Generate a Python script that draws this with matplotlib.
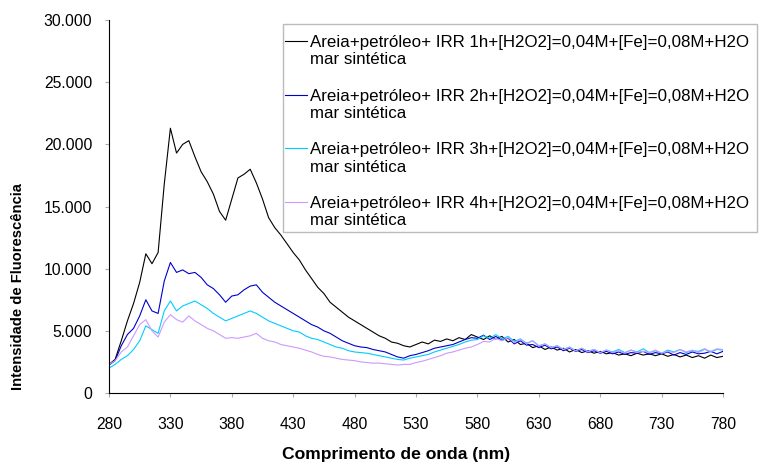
import numpy as np
import matplotlib
matplotlib.use('Agg')
from matplotlib import pyplot as plt
from matplotlib.ticker import FuncFormatter
from matplotlib.patches import Rectangle
from matplotlib.legend_handler import HandlerLine2D

plt.rcParams['font.family'] = ['Liberation Sans', 'DejaVu Sans']

wavelength = np.arange(280, 781, 5)

irr_1h = [2300, 2700, 4200, 5800, 7200, 8900, 11200, 10400, 11300, 16800,
          21300, 19300, 20000, 20300, 19000, 17800, 17000, 16000, 14600, 13900,
          15600, 17300, 17600, 18000, 16900, 15600, 14100, 13300, 12700, 12000,
          11300, 10700, 9900, 9200, 8500, 8000, 7300, 6900, 6500, 6100,
          5800, 5500, 5200, 4900, 4600, 4400, 4100, 4000, 3800, 3700,
          3900, 4100, 3950, 4250, 4150, 4350, 4200, 4450, 4300, 4700,
          4500, 4300, 4600, 4350, 4550, 4100, 4300, 3900, 4000, 3650,
          3800, 3500, 3700, 3450, 3600, 3300, 3500, 3250, 3400, 3200,
          3350, 3150, 3250, 3050, 3150, 3000, 3200, 3050, 3150, 3000,
          3150, 2950, 3100, 2900, 3050, 2850, 3000, 2800, 3050, 2850,
          2950]

irr_2h = [2250, 2600, 3800, 4700, 5200, 6200, 7500, 6600, 6400, 9000,
          10500, 9700, 9900, 9600, 9700, 9300, 8700, 8400, 7900, 7300,
          7800, 7900, 8300, 8600, 8700, 8100, 7700, 7300, 7000, 6700,
          6400, 6100, 5800, 5500, 5300, 5000, 4800, 4500, 4200, 4000,
          3800, 3700, 3650, 3500, 3400, 3300, 3100, 2900, 2800, 3000,
          3100, 3250, 3400, 3600, 3700, 3800, 3900, 4100, 4300, 4450,
          4400, 4650, 4300, 4550, 4250, 4400, 3950, 4200, 3850, 3900,
          3650, 3850, 3550, 3700, 3400, 3600, 3350, 3500, 3250, 3400,
          3200, 3350, 3150, 3300, 3100, 3250, 3200, 3350, 3100, 3250,
          3150, 3300, 3050, 3250, 3100, 3300, 3150, 3200, 3350, 3150,
          3350]

irr_3h = [2000, 2300, 2700, 3000, 3500, 4200, 5400, 5100, 4800, 6600,
          7400, 6600, 7000, 7200, 7400, 7100, 6800, 6400, 6100, 5800,
          6000, 6200, 6400, 6600, 6400, 6100, 5800, 5600, 5400, 5200,
          5000, 4900, 4600, 4400, 4300, 4100, 3900, 3700, 3600, 3400,
          3300, 3250, 3200, 3100, 3000, 2900, 2800, 2700, 2650, 2800,
          2900, 3000, 3100, 3300, 3450, 3600, 3750, 3900, 4100, 4250,
          4300, 4600, 4400, 4700, 4350, 4550, 4150, 4350, 4000, 4200,
          3800, 3950, 3650, 3800, 3500, 3700, 3400, 3600, 3350, 3500,
          3250, 3450, 3300, 3500, 3250, 3450, 3300, 3550, 3250, 3400,
          3200, 3450, 3300, 3500, 3250, 3400, 3350, 3550, 3300, 3500,
          3450]

irr_4h = [2300, 2600, 3300, 3700, 4600, 5500, 5900, 5000, 4500, 5700,
          6300, 5900, 5700, 6200, 5800, 5500, 5200, 5000, 4700, 4400,
          4450, 4400, 4500, 4600, 4800, 4400, 4200, 4100, 3900, 3800,
          3700, 3600, 3450, 3300, 3100, 2950, 2900, 2800, 2700, 2650,
          2600, 2500, 2450, 2400, 2400, 2350, 2300, 2250, 2300, 2300,
          2450, 2550, 2700, 2850, 3000, 3200, 3300, 3450, 3600, 3700,
          3900, 4150, 4100, 4400, 4200, 4450, 4050, 4300, 3950, 4200,
          3750, 3950, 3650, 3800, 3500, 3650, 3400, 3600, 3300, 3500,
          3250, 3450, 3250, 3400, 3200, 3450, 3250, 3350, 3250, 3450,
          3200, 3350, 3250, 3500, 3300, 3450, 3250, 3500, 3350, 3550,
          3500]

labels = ['Areia+petróleo+ IRR %dh+[H2O2]=0,04M+[Fe]=0,08M+H2O\nmar sintética' % h
          for h in (1, 2, 3, 4)]
colors = ['#000000', '#0000CC', '#00CCFF', '#CC99FF']


class FirstLineHandler(HandlerLine2D):
    # put the legend line next to the first text line, like Excel does
    def create_artists(self, legend, orig_handle, xdescent, ydescent,
                       width, height, fontsize, trans):
        arts = super().create_artists(legend, orig_handle, xdescent, ydescent,
                                      width, height, fontsize, trans)
        for a in arts:
            a.set_ydata(np.asarray(a.get_ydata()) + 0.6 * fontsize)
        return arts


fig = plt.figure(figsize=(7.59, 4.67), dpi=100)
ax = fig.add_axes([0.1436, 0.1585, 0.809, 0.7985])

for ys, lab, c in zip([irr_1h, irr_2h, irr_3h, irr_4h], labels, colors):
    ax.plot(wavelength, ys, color=c, lw=0.8, label=lab)

ax.set_xlim(280, 780)
ax.set_ylim(0, 30000)
ax.set_xticks(np.arange(280, 781, 50))
ax.set_yticks(np.arange(0, 30001, 5000))
ax.yaxis.set_major_formatter(FuncFormatter(lambda v, p: f'{int(v):,}'.replace(',', '.')))
ax.tick_params(labelsize=11.3, length=3, color='#AAAAAA')
ax.tick_params(axis='x', pad=14)
ax.tick_params(axis='y', pad=9)
ax.spines['top'].set_visible(False)
ax.spines['right'].set_visible(False)

ax.set_xlabel('Comprimento de onda (nm)', fontsize=12.6, fontweight='bold')
ax.xaxis.set_label_coords(0.468, -0.145)
ax.set_ylabel('Intensidade de Fluorescência', fontsize=10.6, fontweight='bold')
ax.yaxis.set_label_coords(-0.136, 0.285)

leg = fig.legend(*ax.get_legend_handles_labels(), loc='upper left',
                 bbox_to_anchor=(285 / 759, 1 - 35 / 467), fontsize=12.2,
                 frameon=False, handlelength=1.3, handletextpad=0.15,
                 borderpad=0, labelspacing=1.25, borderaxespad=0,
                 handler_map={matplotlib.lines.Line2D: FirstLineHandler()})

fig.patches.append(Rectangle((283 / 759, 1 - 232 / 467), 474 / 759, 208 / 467,
                             transform=fig.transFigure, fill=False,
                             edgecolor='#BBBBBB', lw=1.0))

fig.savefig('out.png', dpi=100)
